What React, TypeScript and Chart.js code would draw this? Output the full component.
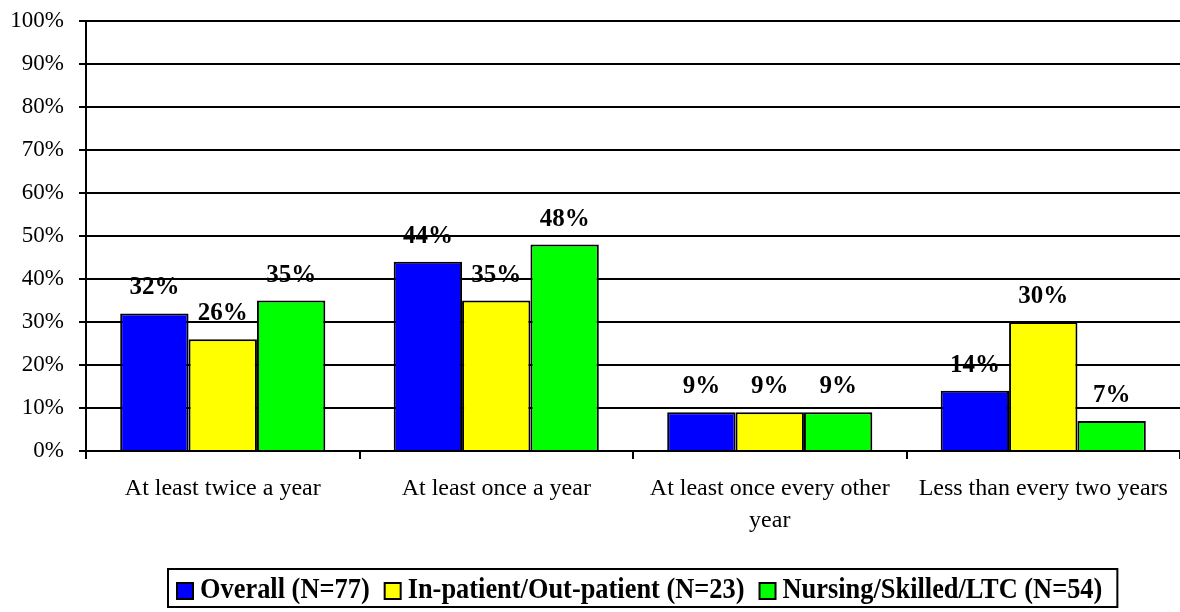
import React, { useEffect, useRef } from "react";
import { Chart, registerables } from "chart.js";

Chart.register(...registerables);

const categories: (string | string[])[] = [
  "At least twice a year",
  "At least once a year",
  ["At least once every other", "year"],
  "Less than every two years",
];
const seriesNames = [
  "Overall (N=77)",
  "In-patient/Out-patient (N=23)",
  "Nursing/Skilled/LTC (N=54)",
];
const overall = [32, 44, 9, 14];
const inpatient = [26, 35, 9, 30];
const nursing = [35, 48, 9, 7];
const seriesColors = ["#0000FF", "#FFFF00", "#00FF00"];

const FONT = "'Times New Roman', 'Liberation Serif', serif";

const labelPlugin = {
  id: "valueLabels",
  afterDatasetsDraw(chart: any) {
    const ctx = chart.ctx;
    ctx.save();
    ctx.font = `bold 25px ${FONT}`;
    ctx.fillStyle = "#000";
    ctx.textAlign = "center";
    ctx.textBaseline = "alphabetic";
    chart.data.datasets.forEach((ds: any, i: number) => {
      const meta = chart.getDatasetMeta(i);
      meta.data.forEach((bar: any, j: number) => {
        ctx.fillText(ds.data[j] + "%", bar.x, bar.y - 19);
      });
    });
    ctx.restore();
  },
};

const legendPlugin = {
  id: "boxLegend",
  afterDraw(chart: any) {
    const ctx = chart.ctx;
    ctx.save();
    ctx.font = `bold 26.4px ${FONT}`;
    const boxSize = 16;
    const gapBoxText = 7;
    const gapItems = 15;
    const widths = seriesNames.map((n) => ctx.measureText(n).width);
    const startX = 177;
    const top = 569;
    const h = 38;
    let x = startX;
    const midY = top + h / 2 + 3;
    ctx.textBaseline = "middle";
    ctx.textAlign = "left";
    seriesNames.forEach((n, i) => {
      ctx.fillStyle = seriesColors[i];
      ctx.fillRect(x, midY - boxSize / 2, boxSize, boxSize);
      ctx.lineWidth = 2;
      ctx.strokeStyle = "#000";
      ctx.strokeRect(x, midY - boxSize / 2, boxSize, boxSize);
      x += boxSize + gapBoxText;
      ctx.fillStyle = "#000";
      ctx.save();
      ctx.translate(x, midY);
      ctx.scale(1, 1.1);
      ctx.fillText(n, 0, 0);
      ctx.restore();
      x += widths[i] + (i < widths.length - 1 ? gapItems : 0);
    });
    ctx.lineWidth = 2;
    ctx.strokeStyle = "#000";
    ctx.strokeRect(startX - 9, top, x + 15 - (startX - 9), h);
    ctx.restore();
  },
};

export default function App() {
  const ref = useRef<HTMLCanvasElement>(null);
  useEffect(() => {
    if (!ref.current) return;
    const values = [overall, inpatient, nursing];
    const chart = new Chart(ref.current, {
      type: "bar",
      data: {
        labels: categories,
        datasets: seriesNames.map((name, i) => ({
          label: name,
          data: values[i],
          backgroundColor: seriesColors[i],
          borderColor: "#000",
          borderWidth: 2,
          categoryPercentage: 0.75,
          barPercentage: 1,
        })),
      },
      options: {
        responsive: false,
        animation: false,
        layout: { padding: { top: 21, left: 0, right: 0, bottom: 0 } },
        plugins: {
          legend: { display: false },
          tooltip: { enabled: false },
        },
        scales: {
          x: {
            afterFit: (s: any) => {
              s.height = 161;
              s.paddingLeft = 0;
              s.paddingRight = 0;
            },
            grid: {
              display: true,
              drawOnChartArea: false,
              drawTicks: true,
              tickLength: 8,
              color: "#000",
              lineWidth: 2,
              offset: true,
            },
            border: { display: true, color: "#000", width: 2 },
            ticks: {
              color: "#000",
              font: { family: FONT, size: 24, lineHeight: 1.32 },
              maxRotation: 0,
              autoSkip: false,
              padding: 14,
            },
          },
          y: {
            min: 0,
            max: 100,
            afterFit: (s: any) => {
              s.width = 86;
              s.paddingTop = 0;
              s.paddingBottom = 0;
            },
            grid: {
              color: "#000",
              lineWidth: 2,
              tickLength: 7,
              drawTicks: true,
            },
            border: { display: true, color: "#000", width: 2 },
            ticks: {
              stepSize: 10,
              color: "#000",
              font: { family: FONT, size: 23 },
              padding: 15,
              callback: (v: any) => v + "%",
            },
          },
        },
      },
      plugins: [labelPlugin, legendPlugin],
    });
    return () => chart.destroy();
  }, []);
  return (
    <div style={{ position: "absolute", left: 0, top: 0, width: 1180, height: 612, background: "#fff" }}>
      <canvas ref={ref} width={1180} height={612} />
    </div>
  );
}
